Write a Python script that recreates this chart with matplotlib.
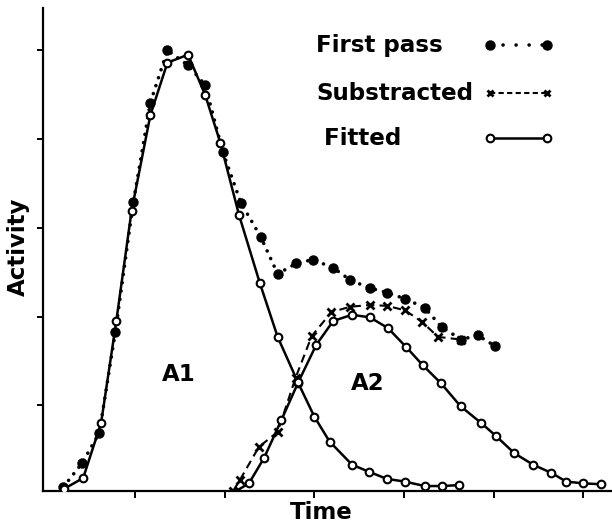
import matplotlib
matplotlib.use("Agg")
import matplotlib.pyplot as plt

# first pass curve (large filled dots, dotted line)
first_x = [0.20, 0.41, 0.60, 0.78, 0.98, 1.17, 1.36, 1.59, 1.78, 1.98, 2.18, 2.40,
           2.59, 2.80, 2.98, 3.21, 3.40, 3.62, 3.81, 4.01, 4.23, 4.42, 4.64, 4.82, 5.01]
first_y = [0.08, 0.35, 0.69, 1.83, 3.29, 4.41, 5.00, 4.83, 4.61, 3.85, 3.28, 2.90,
           2.48, 2.60, 2.64, 2.55, 2.41, 2.32, 2.27, 2.20, 2.10, 1.88, 1.74, 1.79, 1.67]

# subtracted curve (x markers, dashed line)
sub_x = [2.09, 2.17, 2.38, 2.59, 2.79, 2.97, 3.19, 3.40, 3.62, 3.81, 4.01, 4.20, 4.38, 4.64]
sub_y = [0.03, 0.16, 0.53, 0.70, 1.31, 1.78, 2.05, 2.11, 2.13, 2.12, 2.07, 1.94, 1.77, 1.74]

# fitted curves (open circles, solid line)
a1_x = [0.21, 0.42, 0.62, 0.79, 0.96, 1.17, 1.36, 1.59, 1.78, 1.95, 2.16, 2.39,
        2.59, 2.82, 3.00, 3.17, 3.42, 3.61, 3.81, 4.01, 4.23, 4.42, 4.61]
a1_y = [0.06, 0.18, 0.80, 1.95, 3.19, 4.27, 4.86, 4.95, 4.50, 3.96, 3.14, 2.38,
        1.77, 1.25, 0.87, 0.59, 0.33, 0.25, 0.17, 0.14, 0.09, 0.09, 0.10]
a2_x = [2.12, 2.27, 2.44, 2.63, 2.82, 3.02, 3.21, 3.42, 3.62, 3.82, 4.02, 4.21,
        4.41, 4.63, 4.86, 5.03, 5.23, 5.44, 5.64, 5.81, 6.00, 6.20]
a2_y = [0.03, 0.12, 0.41, 0.83, 1.26, 1.68, 1.95, 2.02, 1.99, 1.87, 1.66, 1.45,
        1.25, 0.99, 0.80, 0.65, 0.46, 0.33, 0.24, 0.14, 0.12, 0.11]

x_ticks = [1, 2, 3, 4, 5, 6]
y_ticks = [1, 2, 3, 4, 5]
legend_labels = ['First pass', 'Substracted', ' Fitted']

plt.rcParams['font.family'] = ['DejaVu Sans']
plt.rcParams['font.weight'] = 'bold'

W, H = 612, 522
fig = plt.figure(figsize=(W / 100, H / 100), dpi=100)
ax = fig.add_axes([43 / W, 31 / H, 569 / W, 483 / H])

first_style = dict(color='black', lw=2.6, linestyle=(0, (0.01, 2.3)),
                   dash_capstyle='round', marker='o', markersize=6.5)
sub_style = dict(color='black', lw=1.5, linestyle=(0, (4, 2.5)),
                 marker='x', markersize=5.5, markeredgewidth=2)
fit_style = dict(color='black', lw=1.8, marker='o', markersize=5.5,
                 markerfacecolor='white', markeredgewidth=1.5)

ax.plot(first_x, first_y, zorder=3, **first_style)
ax.plot(sub_x, sub_y, zorder=3, **sub_style)
ax.plot(a1_x, a1_y, zorder=4, **fit_style)
ax.plot(a2_x, a2_y, zorder=4, markevery=range(1, len(a2_x)), **fit_style)

ax.text(1.49, 1.35, 'A1', fontsize=16.5, ha='center', va='center')
ax.text(3.59, 1.25, 'A2', fontsize=16.5, ha='center', va='center')

ax.set_xlim(-0.028, 6.32)
ax.set_ylim(0.034, 5.476)
ax.set_xticks(x_ticks)
ax.set_yticks(y_ticks)
ax.tick_params(axis='x', direction='out', length=5, width=1.4, labelbottom=False)
ax.tick_params(axis='y', direction='out', length=4.5, width=1.4, labelleft=False)
for side in ('top', 'right'):
    ax.spines[side].set_visible(False)
for side in ('left', 'bottom'):
    ax.spines[side].set_linewidth(1.6)

ax.set_xlabel('Time', fontsize=16.5, fontweight='bold', va='center')
ax.xaxis.set_label_coords(0.489, -0.0435)
ax.set_ylabel('Activity', fontsize=16.5, fontweight='bold', va='center')
ax.yaxis.set_label_coords(-0.044, 0.505)


# hand-placed key: text left-aligned, sample to the right (pixel positions)
def key_row(label, style, text_x, baseline_y, sample_y):
    fig.text(text_x / W, 1 - baseline_y / H, label, fontsize=16.6,
             ha='left', va='baseline')
    fig.add_artist(plt.Line2D([490 / W, 547 / W], [1 - sample_y / H] * 2,
                              transform=fig.transFigure, **style))


legend_first = dict(first_style, linestyle=(0, (0.01, 3.6)))
legend_sub = dict(sub_style, linestyle=(0, (2.5, 1.6)), markersize=4.5)
key_row(legend_labels[0], legend_first, 316, 52, 45)
key_row(legend_labels[1], legend_sub, 316, 100, 93)
key_row(legend_labels[2], fit_style, 316, 145, 138)

fig.savefig('out.png', dpi=100)
